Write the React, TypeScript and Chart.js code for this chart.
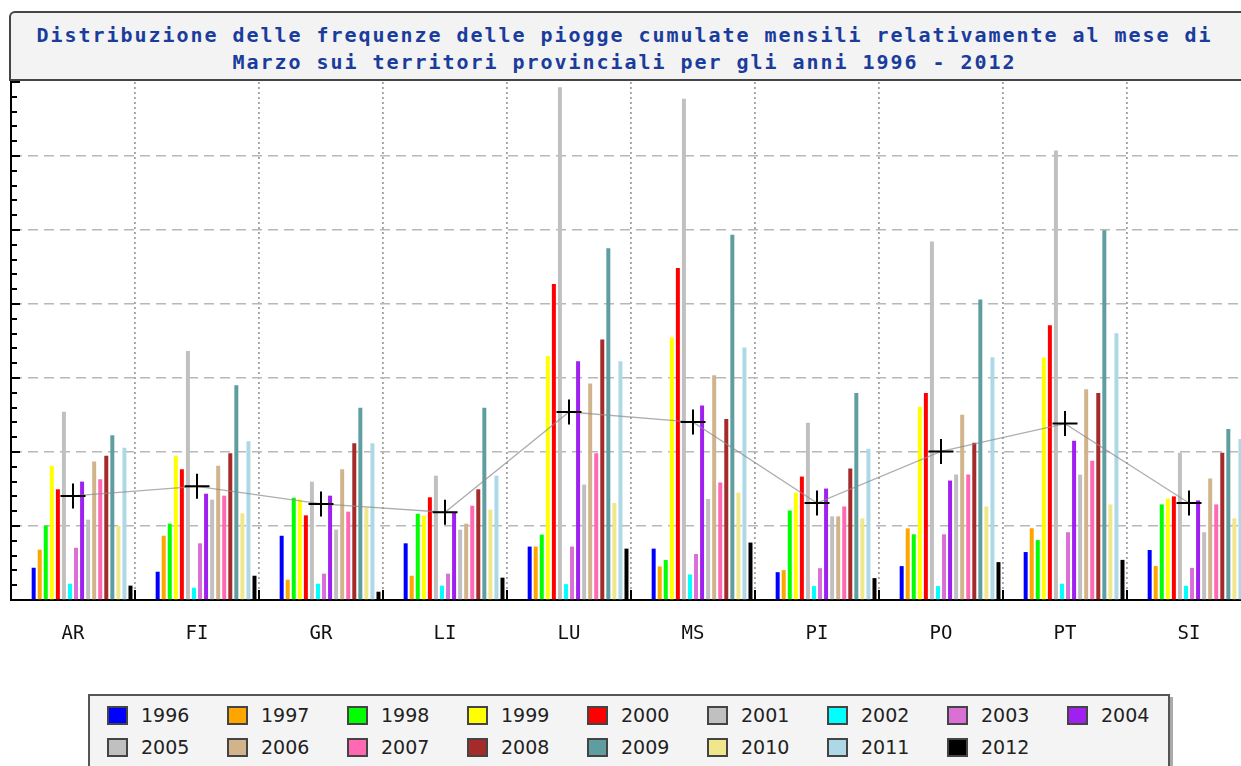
import React, { useEffect, useRef } from 'react';
import { Chart, registerables } from 'chart.js';
Chart.register(...registerables);

const TITLE_LINES = [
  'Distribuzione delle frequenze delle piogge cumulate mensili relativamente al mese di',
  'Marzo sui territori provinciali per gli anni 1996 - 2012',
];

const provinces = ['AR', 'FI', 'GR', 'LI', 'LU', 'MS', 'PI', 'PO', 'PT', 'SI'];
const years = ['1996', '1997', '1998', '1999', '2000', '2001', '2002', '2003', '2004', '2005', '2006', '2007', '2008', '2009', '2010', '2011', '2012'];
const yearColors = ['#0000ff', '#ffa500', '#00ff00', '#ffff00', '#ff0000', '#c0c0c0', '#00ffff', '#da70d6', '#a020f0', '#c0c0c0', '#d2b48c', '#ff69b4', '#a52a2a', '#5f9ea0', '#f0e68c', '#add8e6', '#000000'];

// values per year, in province order AR..SI
const y1996 = [21.8, 19.1, 43.4, 38.3, 36.1, 34.7, 18.8, 22.9, 32.4, 33.8];
const y1997 = [34, 43.4, 13.7, 16.4, 36.1, 22.7, 20.2, 48.4, 48.5, 23];
const y1998 = [50.2, 51.6, 69.1, 58.3, 44.2, 27, 60.5, 44.4, 40.5, 64.6];
const y1999 = [90.7, 97.5, 68, 57, 164.9, 177.4, 72.6, 130.5, 163.9, 68.6];
const y2000 = [74.8, 88.3, 57.2, 69.4, 213.5, 224.4, 83.4, 139.9, 185.6, 70];
const y2001 = [127.2, 168.2, 79.9, 84, 346.4, 338.7, 119.7, 242.2, 303.7, 99.5];
const y2002 = [11, 8.3, 11, 9.7, 10.7, 17.2, 9.4, 9.4, 11, 9.6];
const y2003 = [35.3, 38.3, 17.8, 17.8, 36.1, 31.1, 21.5, 44.4, 45.8, 21.7];
const y2004 = [80, 71.8, 70.5, 59, 161.3, 131.4, 75.3, 80.7, 107.6, 67.3];
const y2005 = [54.3, 67.8, 47.5, 47.5, 78, 68.3, 56.5, 84.8, 84.7, 45.8];
const y2006 = [93.5, 90.7, 88.3, 51.6, 146.3, 151.8, 56.5, 125.1, 142.4, 82.1];
const y2007 = [81.6, 70.5, 59.7, 63.7, 99.1, 79.4, 63.2, 84.8, 94.1, 64.6];
const y2008 = [97.5, 99.1, 105.9, 74.8, 176, 122.3, 88.8, 106.3, 139.8, 99.5];
const y2009 = [111.3, 145.1, 129.9, 129.9, 237.7, 246.8, 139.9, 203.1, 249.8, 115.6];
const y2010 = [50.2, 58.6, 62.4, 61, 65.6, 72.6, 55.2, 63.2, 64.6, 55.2];
const y2011 = [102.9, 107.2, 105.9, 84, 161.3, 170.6, 102.2, 164.1, 180.2, 108.8];
const y2012 = [9.7, 16.4, 5.6, 15.1, 34.7, 38.8, 14.8, 25.6, 27.1, 18];
const yearValues = [y1996, y1997, y1998, y1999, y2000, y2001, y2002, y2003, y2004, y2005, y2006, y2007, y2008, y2009, y2010, y2011, y2012];

// mean per province (crosses)
const means = [70.3, 76.8, 64.9, 59.3, 127, 120.2, 65.5, 100.4, 119.2, 65.5];

const Y_MAX = 350;
const Y_STEP = 50;
const Y_MINOR = 10;

const innerTicks = {
  id: 'innerTicks',
  afterDraw(chart: any) {
    const { ctx, chartArea, scales } = chart;
    const y = scales.y;
    const x = scales.x;
    ctx.save();
    ctx.strokeStyle = '#000';
    ctx.lineWidth = 2;
    ctx.setLineDash([]);
    for (let v = 0; v <= Y_MAX; v += Y_MINOR) {
      const py = Math.round(y.getPixelForValue(v));
      const len = v % Y_STEP === 0 ? 9 : 6;
      ctx.beginPath();
      ctx.moveTo(chartArea.left, py);
      ctx.lineTo(chartArea.left + len, py);
      ctx.stroke();
    }
    for (let i = 0; i < provinces.length - 1; i++) {
      const px = (x.getPixelForValue(i) + x.getPixelForValue(i + 1)) / 2;
      ctx.beginPath();
      ctx.moveTo(px, chartArea.bottom);
      ctx.lineTo(px, chartArea.bottom - 10);
      ctx.stroke();
    }
    ctx.restore();
  },
};

export default function App() {
  const ref = useRef<HTMLCanvasElement | null>(null);

  useEffect(() => {
    document.documentElement.style.overflow = 'hidden';
    document.body.style.overflow = 'hidden';
    const canvas = ref.current;
    if (!canvas) return;
    const spacers = [0, 1, 2].map(() => ({
      type: 'bar' as const,
      label: '',
      data: provinces.map(() => null),
      backgroundColor: 'rgba(0,0,0,0)',
      order: 1,
    }));
    const bars = years.map((yr, i) => ({
      type: 'bar' as const,
      label: yr,
      data: yearValues[i],
      backgroundColor: yearColors[i],
      borderWidth: 0,
      order: 1,
    }));
    const chart = new Chart(canvas, {
      type: 'bar',
      data: {
        labels: provinces,
        datasets: [
          ...spacers,
          ...bars,
          {
            type: 'line' as const,
            label: 'media',
            data: means,
            borderColor: 'rgba(140,140,140,0.7)',
            borderWidth: 1.3,
            pointStyle: 'cross',
            pointRadius: 12.5,
            pointBorderColor: '#000',
            pointBorderWidth: 2,
            pointBackgroundColor: '#000',
            fill: false,
            tension: 0,
            order: 0,
          } as any,
        ],
      },
      options: {
        responsive: false,
        animation: false,
        devicePixelRatio: 1,
        layout: { autoPadding: false, padding: { left: 11, right: 19, top: 2, bottom: 20 } } as any,
        datasets: {
          bar: { categoryPercentage: 0.976, barPercentage: 0.66 },
        },
        plugins: {
          legend: { display: false },
          title: { display: false },
          tooltip: { enabled: false },
        },
        scales: {
          x: {
            offset: true,
            grid: {
              offset: true,
              color: '#a0a0a0',
              lineWidth: 1.8,
              drawTicks: false,
            },
            border: { display: true, color: '#000', width: 2, dash: [2, 3] } as any,
            ticks: {
              padding: 23,
              color: '#111',
              font: { family: '"DejaVu Sans Mono", monospace', size: 19 },
            },
            afterFit: (s: any) => { s.height = 60; },
          },
          y: {
            min: 0,
            max: Y_MAX,
            ticks: { stepSize: Y_STEP, display: false },
            grid: {
              color: (c: any) => (c.tick && c.tick.value === Y_MAX ? 'rgba(0,0,0,0)' : '#b8b8b8'),
              lineWidth: 1.6,
              drawTicks: false,
            },
            border: { display: true, color: '#000', width: 2, dash: [10, 6] } as any,
            afterFit: (s: any) => { s.width = 0; },
          },
        },
      },
      plugins: [innerTicks],
    });
    return () => chart.destroy();
  }, []);

  return (
    <div style={{ position: 'fixed', left: 0, top: 0, width: 1270, height: 766, background: '#fff', overflow: 'hidden' }}>
      <div
        style={{
          position: 'absolute', left: 9, top: 11, width: 1300, height: 70, boxSizing: 'border-box',
          background: '#f3f3f3', border: '2px solid #454545', borderTopLeftRadius: 6,
        }}
      />
      <div
        style={{
          position: 'absolute', left: 0, top: 22, width: 1249, textAlign: 'center',
          fontFamily: '"DejaVu Sans Mono", monospace', fontWeight: 'bold', fontSize: 20,
          letterSpacing: '1.96px', lineHeight: '26.5px', color: '#1a3c9c', whiteSpace: 'pre',
        }}
      >
        {TITLE_LINES.map((l) => (<div key={l}>{l}</div>))}
      </div>
      <canvas ref={ref} width={1270} height={600} style={{ position: 'absolute', left: 0, top: 80, width: 1270, height: 600 }} />
      <div
        style={{
          position: 'absolute', left: 88, top: 694, width: 1082, height: 100, boxSizing: 'border-box',
          background: '#f4f4f4', border: '2px solid #555', boxShadow: '3px 3px 0 #aaa',
          paddingLeft: 17, paddingTop: 3,
          display: 'grid', gridTemplateColumns: 'repeat(9, 120px)', gridAutoRows: '32px', alignContent: 'start',
        }}
      >
        {years.map((yr, i) => (
          <div key={yr} style={{ display: 'flex', alignItems: 'center', height: 32 }}>
            <span style={{ display: 'inline-block', width: 21, height: 19, boxSizing: 'border-box', background: yearColors[i], border: '2px solid #444' }} />
            <span style={{ marginLeft: 13, fontFamily: '"DejaVu Sans", sans-serif', fontSize: 19, color: '#222' }}>{yr}</span>
          </div>
        ))}
      </div>
    </div>
  );
}
